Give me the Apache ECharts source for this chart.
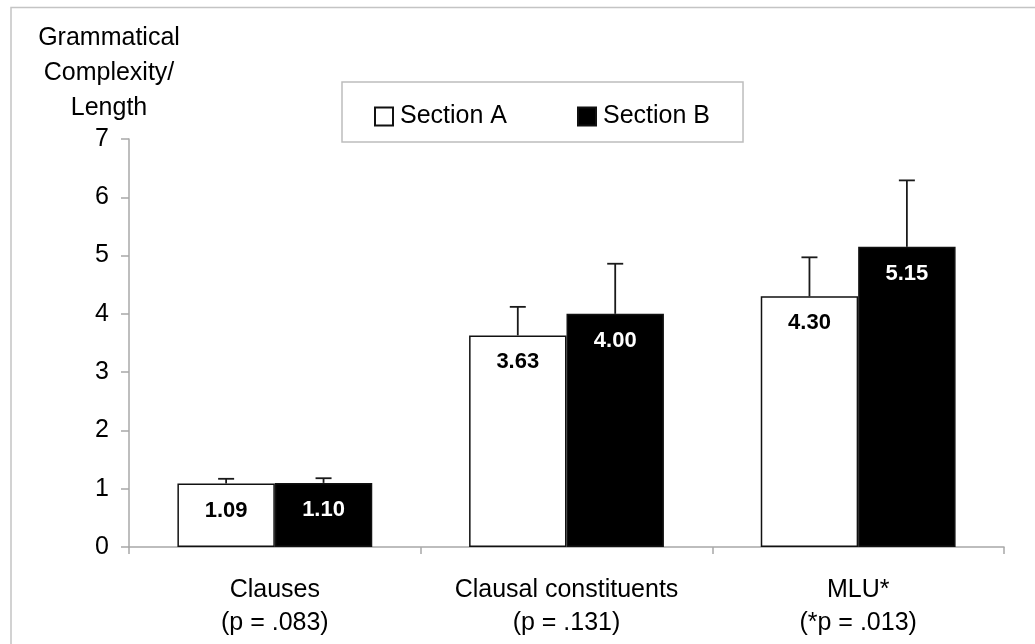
<!DOCTYPE html>
<html>
<head>
<meta charset="utf-8">
<title>Grammatical Complexity / Length by Section</title>
<script src="https://cdn.jsdelivr.net/npm/echarts@6/dist/echarts.min.js"></script>
<style>
  html, body { margin: 0; padding: 0; background: #fff; }
  #chart { width: 1035px; height: 644px; }
</style>
</head>
<body>
<div id="chart"></div>
<script>
// Measures and their significance notes
const categories = ['Clauses\n(p = .083)', 'Clausal constituents\n(p = .131)', 'MLU*\n(*p = .013)'];
const seriesNames = ['Section A', 'Section B'];
// Means per section
const sectionA = [1.09, 3.63, 4.30];
const sectionB = [1.10, 4.00, 5.15];
// Standard deviations (upper error bars)
const errA = [0.08, 0.49, 0.67];
const errB = [0.08, 0.86, 1.14];
const yTicks = { min: 0, max: 7, interval: 1 };

const FONT = '"Liberation Sans", Arial, sans-serif';
const BAR_FRACTION = 0.334;

const chart = echarts.init(document.getElementById('chart'), null, { renderer: 'canvas' });

function errorSeries(name, means, errs, side) {
  return {
    type: 'custom',
    name: name + ' SD',
    z: 5,
    silent: true,
    data: means.map((m, i) => [i, m, m + errs[i]]),
    renderItem: function (params, api) {
      const band = api.size([1, 0])[0];
      const bw = band * BAR_FRACTION;
      const base = api.coord([api.value(0), api.value(1)]);
      const top = api.coord([api.value(0), api.value(2)]);
      const x = base[0] + side * bw / 2;
      const cap = 8;
      const style = { stroke: '#1a1a1a', lineWidth: 1.8 };
      return {
        type: 'group',
        children: [
          { type: 'line', shape: { x1: x, y1: base[1], x2: x, y2: top[1] }, style: style },
          { type: 'line', shape: { x1: x - cap, y1: top[1], x2: x + cap, y2: top[1] }, style: style }
        ]
      };
    }
  };
}

const option = {
  backgroundColor: '#ffffff',
  animation: false,
  textStyle: { fontFamily: FONT },
  grid: { left: 129, right: 31, top: 139, bottom: 97, containLabel: false },
  legend: {
    data: seriesNames,
    left: 342,
    top: 82,
    width: 380,
    padding: [22, 33, 13, 32],
    itemGap: 70,
    itemWidth: 18,
    itemHeight: 18,
    icon: 'rect',
    borderColor: '#bdbdbd',
    borderWidth: 1.5,
    textStyle: { fontFamily: FONT, fontSize: 25, color: '#000', padding: [0, 0, 0, 2] }
  },
  xAxis: {
    type: 'category',
    data: categories,
    axisLine: { lineStyle: { color: '#a8a8a8', width: 1.5 } },
    axisTick: { show: true, length: 7, lineStyle: { color: '#a8a8a8', width: 1.5 } },
    axisLabel: {
      fontFamily: FONT, fontSize: 25, color: '#000',
      margin: 27, lineHeight: 33, interval: 0
    }
  },
  yAxis: {
    type: 'value',
    min: yTicks.min,
    max: yTicks.max,
    interval: yTicks.interval,
    splitLine: { show: false },
    axisLine: { show: true, lineStyle: { color: '#a8a8a8', width: 1.5 } },
    axisTick: { show: true, length: 8, lineStyle: { color: '#a8a8a8', width: 1.5 } },
    axisLabel: { fontFamily: FONT, fontSize: 25, color: '#000', margin: 20 }
  },
  graphic: [
    {
      type: 'rect',
      shape: { x: 11, y: 7.5, width: 1040, height: 660 },
      style: { fill: 'none', stroke: '#c4c4c4', lineWidth: 1.5 },
      silent: true
    },
    {
      type: 'text',
      x: 109,
      y: 21,
      style: {
        text: 'Grammatical\nComplexity/\nLength',
        font: '25px ' + FONT,
        fill: '#000',
        align: 'center',
        verticalAlign: 'top',
        lineHeight: 35
      }
    }
  ],
  series: [
    {
      name: seriesNames[0],
      type: 'bar',
      data: sectionA,
      barWidth: (BAR_FRACTION * 100) + '%',
      barGap: '0%',
      itemStyle: { color: '#ffffff', borderColor: '#111', borderWidth: 1.5 },
      label: {
        show: true, position: 'insideTop', distance: 16,
        fontFamily: FONT, fontSize: 22, fontWeight: 'bold', color: '#000',
        formatter: p => p.value.toFixed(2)
      }
    },
    {
      name: seriesNames[1],
      type: 'bar',
      data: sectionB,
      barWidth: (BAR_FRACTION * 100) + '%',
      barGap: '0%',
      itemStyle: { color: '#000000', borderColor: '#111', borderWidth: 1.5 },
      label: {
        show: true, position: 'insideTop', distance: 16,
        fontFamily: FONT, fontSize: 22, fontWeight: 'bold', color: '#fff',
        formatter: p => p.value.toFixed(2)
      }
    },
    errorSeries(seriesNames[0], sectionA, errA, -1),
    errorSeries(seriesNames[1], sectionB, errB, 1)
  ]
};

chart.setOption(option);
</script>
</body>
</html>
